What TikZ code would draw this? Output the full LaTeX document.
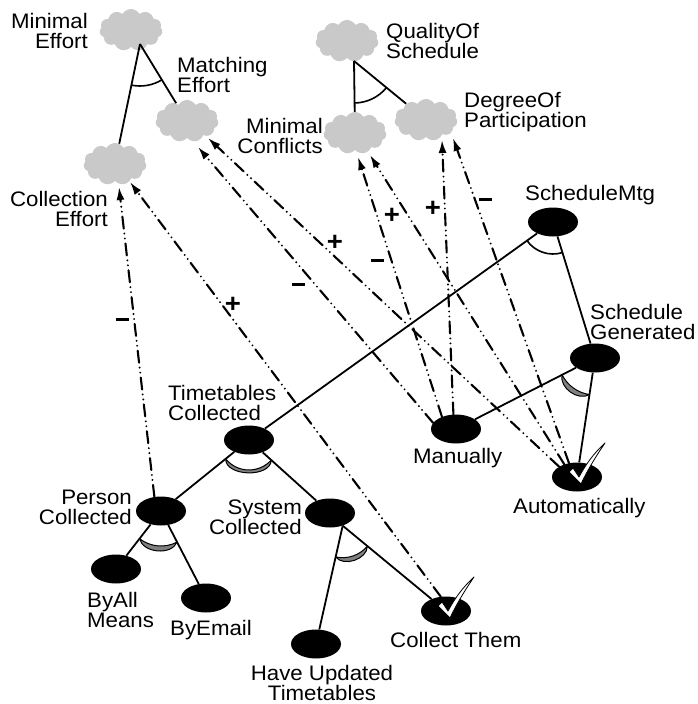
\documentclass[tikz,border=0pt]{standalone}
\usepackage{fontspec}
\newfontfamily\lblfont{Liberation Sans}[FakeStretch=1.06]
\usetikzlibrary{shapes.symbols,shapes.geometric,arrows.meta,calc}

\definecolor{cloudgray}{gray}{0.79}
\definecolor{orgray}{gray}{0.5}

\tikzset{
  goal/.style={ellipse, fill=black, minimum width=50pt, minimum height=29pt, inner sep=0pt},
  soft/.style={cloud, cloud puffs=11, cloud puff arc=120, cloud ignores aspect,
    fill=cloudgray, minimum width=63pt, minimum height=42pt, inner sep=0pt},
  lbl/.style={font=\lblfont\fontsize{21}{20}\selectfont, inner sep=0pt},
  sign/.style={font=\lblfont\fontsize{26}{26}\selectfont\bfseries, inner sep=0pt},
  decomp/.style={line width=1.8pt},
  contrib/.style={line width=2.1pt, line cap=round,
    dash pattern=on 12pt off 5pt on 0pt off 5pt on 0pt off 5pt,
    -{Latex[length=13pt,width=8pt]}},
  andarcst/.style={line width=1.6pt},
  orarcst/.style={fill=orgray, draw=black, line width=1pt, line join=round},
  tick/.pic={
    \filldraw[fill=white, draw=black, line width=0.8pt, line join=round]
      (-8,5) -- (-4,9) -- (2,0) .. controls (9,13) and (17,24) .. (28,34)
      .. controls (19,21) and (10,6) .. (4,-7) -- cycle;
  }
}

% AND decomposition: open arc around the apex between two children
\newcommand\andlink[4]{%
  \draw[andarcst] let \p1=($(#2)-(#1)$), \p2=($(#3)-(#1)$),
    \n1={atan2(\y1,\x1)}, \n2={atan2(\y2,\x2)} in
    ($(#1)+(\n1:#4)$) arc[start angle=\n1, end angle=\n2, radius=#4];
}
% OR decomposition: filled crescent around the apex between two children
\newcommand\orlink[4]{%
  \filldraw[orarcst] let \p1=($(#2)-(#1)$), \p2=($(#3)-(#1)$),
    \n1={atan2(\y1,\x1)}, \n2={atan2(\y2,\x2)},
    \n3={\n2-90+40}, \n4={\n1+90-40} in
    ($(#1)+(\n1:#4)$) arc[start angle=\n1, end angle=\n2, radius=#4]
    to[out=\n3, in=\n4] ($(#1)+(\n1:#4)$) -- cycle;
}
% heavy minus sign for contribution labels
\newcommand\heavyminus{\rule[0.22em]{13pt}{3.2pt}}

\begin{document}
\begin{tikzpicture}[x=1pt, y=1pt]
\useasboundingbox (0,0) rectangle (698,-704);

% softgoals
\node[soft] (mineff) at (131,-30) {};
\node[soft] (meff)   at (187,-121) {};
\node[soft] (ceff)   at (115,-164) {};
\node[soft] (qos)    at (347,-41) {};
\node[soft] (mc)     at (355,-133) {};
\node[soft] (dop)    at (426,-120) {};

\coordinate (meApex) at (140,-44);
\coordinate (qsApex) at (354,-61);

% goals and tasks
\node[goal] (smtg) at (553,-222) {};
\node[goal] (sgen) at (595,-358) {};
\node[goal] (man)  at (456,-429) {};
\node[goal] (auto) at (577,-477) {};
\node[goal] (tc)   at (249,-440) {};
\node[goal] (pc)   at (161,-511) {};
\node[goal] (sys)  at (330,-513) {};
\node[goal] (bam)  at (116,-569) {};
\node[goal] (bye)  at (206,-598) {};
\node[goal] (hut)  at (316,-644) {};
\node[goal] (ct)   at (446,-611) {};
\coordinate (sysApex) at (sys.-45);

% decomposition links
\draw[decomp] (meApex) -- (ceff);
\draw[decomp] (meApex) -- (meff);
\draw[decomp] (qsApex) -- (mc);
\draw[decomp] (qsApex) -- (dop);
\draw[decomp] (smtg) -- (tc);
\draw[decomp] (smtg) -- (sgen);
\draw[decomp] (sgen) -- (man);
\draw[decomp] (sgen) -- (auto);
\draw[decomp] (tc) -- (pc);
\draw[decomp] (tc) -- (sys);
\draw[decomp] (pc) -- (bam);
\draw[decomp] (pc) -- (bye);
\draw[decomp] (sysApex) -- (hut);
\draw[decomp] (sysApex) -- (ct);

\andlink{meApex}{ceff}{meff}{42}
\andlink{qsApex}{mc}{dop}{42}
\andlink{smtg}{tc}{sgen}{32}
\orlink{sgen}{man}{auto}{37}
\orlink{tc}{pc}{sys}{30}
\orlink{pc}{bam}{bye}{35}
\orlink{sysApex}{hut}{ct}{32}

% satisfied tasks
\pic at (auto) {tick};
\pic at (ct) {tick};

% contribution links
\draw[contrib] (pc.115)   -- ($(ceff.center)+(4,-23)$);
\draw[contrib] (ct.110)   -- ($(ceff.center)+(15,-18)$);
\draw[contrib] (man.165)  -- ($(meff.center)+(11,-26)$);
\draw[contrib] (auto.150) -- ($(meff.center)+(21,-17)$);
\draw[contrib] (man.139)  -- ($(mc.center)+(3,-24)$);
\draw[contrib] (auto.135) -- ($(mc.center)+(15,-22)$);
\draw[contrib] (man.100)  -- ($(dop.center)+(16,-20)$);
\draw[contrib] (auto.120) -- ($(dop.center)+(27,-18)$);

% contribution signs
\node[sign] (s1) at (122,-322) {\heavyminus};
\node[sign] (s2) at (233,-305) {+};
\node[sign] (s3) at (298,-287) {\heavyminus};
\node[sign] (s4) at (335,-243) {+};
\node[sign] (s5) at (377,-263) {\heavyminus};
\node[sign] (s6) at (392,-216) {+};
\node[sign] (s7) at (433,-209) {+};
\node[sign] (s8) at (485,-202) {\heavyminus};

% labels
\node[lbl, anchor=north east, align=right] (l-mineff) at (88,-13)  {Minimal\\Effort};
\node[lbl, anchor=north west, align=left]  (l-meff)   at (177,-57) {Matching\\Effort};
\node[lbl, anchor=north east, align=right] (l-ceff)   at (108,-191) {Collection\\Effort};
\node[lbl, anchor=north west, align=left]  (l-qos)    at (386,-23) {QualityOf\\Schedule};
\node[lbl, anchor=north east, align=right] (l-mc)     at (323,-118) {Minimal\\Conflicts};
\node[lbl, anchor=north west, align=left]  (l-dop)    at (464,-92) {DegreeOf\\Participation};
\node[lbl, anchor=north west] (l-smtg) at (525,-185) {ScheduleMtg};
\node[lbl, anchor=north west, align=left]  (l-sgen)   at (590,-304) {Schedule\\Generated};
\node[lbl, anchor=north west] (l-man)  at (413,-448) {Manually};
\node[lbl, anchor=north west] (l-auto) at (513,-498) {Automatically};
\node[lbl, anchor=north west, align=left]  (l-tc)     at (168,-385) {Timetables\\Collected};
\node[lbl, anchor=north east, align=right] (l-pc)     at (132,-490) {Person\\Collected};
\node[lbl, anchor=north east, align=right] (l-sys)    at (302,-500) {System\\Collected};
\node[lbl, anchor=north west, align=left]  (l-bam)    at (87,-592) {ByAll\\Means};
\node[lbl, anchor=north west] (l-bye)  at (170,-620) {ByEmail};
\node[lbl, anchor=north, align=center]     (l-hut)    at (322,-665) {Have Updated\\Timetables};
\node[lbl, anchor=north west] (l-ct)   at (390,-632) {Collect Them};
\end{tikzpicture}
\end{document}
